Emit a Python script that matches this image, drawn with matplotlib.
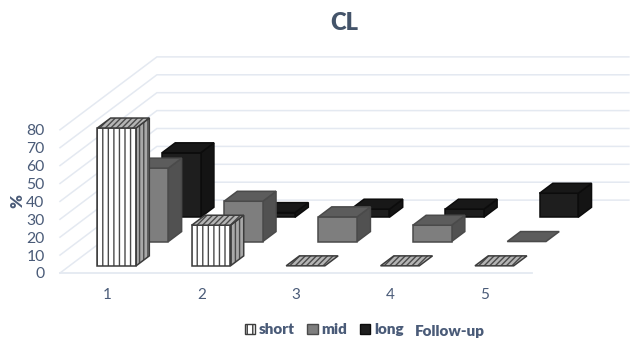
import matplotlib
matplotlib.use("Agg")
import matplotlib.pyplot as plt
from matplotlib.patches import Polygon, Patch

categories = ["1", "2", "3", "4", "5"]
series_names = ["short", "mid", "long"]
short_values = [77, 22.7, 0, 0, 0]
mid_values = [41, 22.5, 13.8, 9.1, 0]
long_values = [36, 2.6, 4.5, 4.5, 13.4]
y_ticks = [0, 10, 20, 30, 40, 50, 60, 70, 80]
extra_legend_label = "Follow-up"
title_text = "CL"
y_label = "%"

TEXT = "#4a5b78"
TITLE = "#44546a"
GRID = "#e4e9f1"
plt.rcParams["font.family"] = ["Lato", "DejaVu Sans"]
plt.rcParams["hatch.linewidth"] = 1.0

# Oblique projection: category units (x), % (y), depth rows (z) -> pixels
X0, Y0 = 60.0, 273.0
CAT_W = 94.4
PCT_H = 1.79
DEPTH_X, DEPTH_Y = 32.3, -24.3
BAR_W = 0.41
BAR_D = 0.41


def proj(x, y, z):
    return (X0 + CAT_W * x + DEPTH_X * z, Y0 - PCT_H * y + DEPTH_Y * z)


fig = plt.figure(figsize=(6.32, 3.45), dpi=100)
ax = fig.add_axes([0, 0, 1, 1])
ax.set_xlim(0, 632)
ax.set_ylim(345, 0)
ax.axis("off")

# walls and floor
n = len(categories)
for t in y_ticks:
    a, b, c = proj(0, t, 0), proj(0, t, 3), proj(n, t, 3)
    ax.plot([a[0], b[0], c[0]], [a[1], b[1], c[1]], color=GRID, lw=1.1, zorder=1,
            solid_joinstyle="miter")
f0, f1 = proj(0, 0, 0), proj(n, 0, 0)
ax.plot([f0[0], f1[0]], [f0[1], f1[1]], color=GRID, lw=1.3, zorder=1)

styles = {
    "short": dict(front="#ffffff", top="#b5b5b5", side="#a8a8a8", edge="#3c3c3c",
                  h_front="|||", h_top="//////", h_side="||||", hc="#4a4a4a"),
    "mid": dict(front="#7e7e7e", top="#5c5c5c", side="#515151", edge="#4a4a4a",
                h_front=None, h_top=None, h_side=None, hc=None),
    "long": dict(front="#1e1e1e", top="#181818", side="#141414", edge="#0c0c0c",
                 h_front=None, h_top=None, h_side=None, hc=None),
}


def face(points, fill, edge, hatch, hc, z):
    ax.add_patch(Polygon(points, closed=True, facecolor=fill, edgecolor=hc if hatch else edge,
                         lw=0, hatch=hatch, zorder=z))
    ax.add_patch(Polygon(points, closed=True, facecolor="none", edgecolor=edge, lw=1.1,
                         joinstyle="miter", zorder=z + 0.1))


def bar(cat, row, val, st, z):
    gx = (1 - BAR_W) / 2
    gz = (1 - BAR_D) / 2
    x0, x1 = cat + gx, cat + gx + BAR_W
    z0, z1 = row + gz, row + gz + BAR_D
    if val > 0:
        face([proj(x1, 0, z0), proj(x1, 0, z1), proj(x1, val, z1), proj(x1, val, z0)],
             st["side"], st["edge"], st["h_side"], st["hc"], z)
        face([proj(x0, 0, z0), proj(x1, 0, z0), proj(x1, val, z0), proj(x0, val, z0)],
             st["front"], st["edge"], st["h_front"], st["hc"], z + 0.2)
    face([proj(x0, val, z0), proj(x1, val, z0), proj(x1, val, z1), proj(x0, val, z1)],
         st["top"], st["edge"], st["h_top"], st["hc"], z + 0.4)


rows = [("long", long_values, 2), ("mid", mid_values, 1), ("short", short_values, 0)]
order = 2
for name, values, row in rows:
    for i, v in enumerate(values):
        bar(i, row, v, styles[name], order + 0.5 * (n - i) / n)
    order += 2

# tick labels
for t in y_ticks:
    px = proj(0, t, 0)
    ax.text(44.5, px[1] + 1.5, str(t), ha="right", va="center", fontsize=11.3, color=TEXT)
for i, c in enumerate(categories):
    px = proj(i + 0.5, 0, 0)
    ax.text(px[0], 295, c, ha="center", va="center", fontsize=11, color=TEXT)

ax.text(17, 201, y_label, rotation=90, ha="center", va="center", fontsize=12,
        fontweight="heavy", color=TEXT)
ax.text(344, 23, title_text, ha="center", va="center", fontsize=17, fontweight="heavy",
        color=TITLE)

# legend
handles = [Patch(facecolor=styles[s]["front"], edgecolor=styles[s]["edge"],
                 hatch="|||" if s == "short" else None, lw=1.0) for s in series_names]
leg = ax.legend(handles, series_names, loc="center left", bbox_to_anchor=(245 / 632, 1 - 330 / 345),
                ncol=3, frameon=False, borderpad=0, borderaxespad=0, handlelength=0.66,
                handleheight=0.66, handletextpad=0.27, columnspacing=0.8,
                prop={"size": 11, "weight": "heavy"}, labelcolor=TEXT)
ax.text(415, 331, extra_legend_label, ha="left", va="center", fontsize=11, fontweight="heavy",
        color=TEXT)

fig.savefig("out.png", dpi=100, facecolor="white")
